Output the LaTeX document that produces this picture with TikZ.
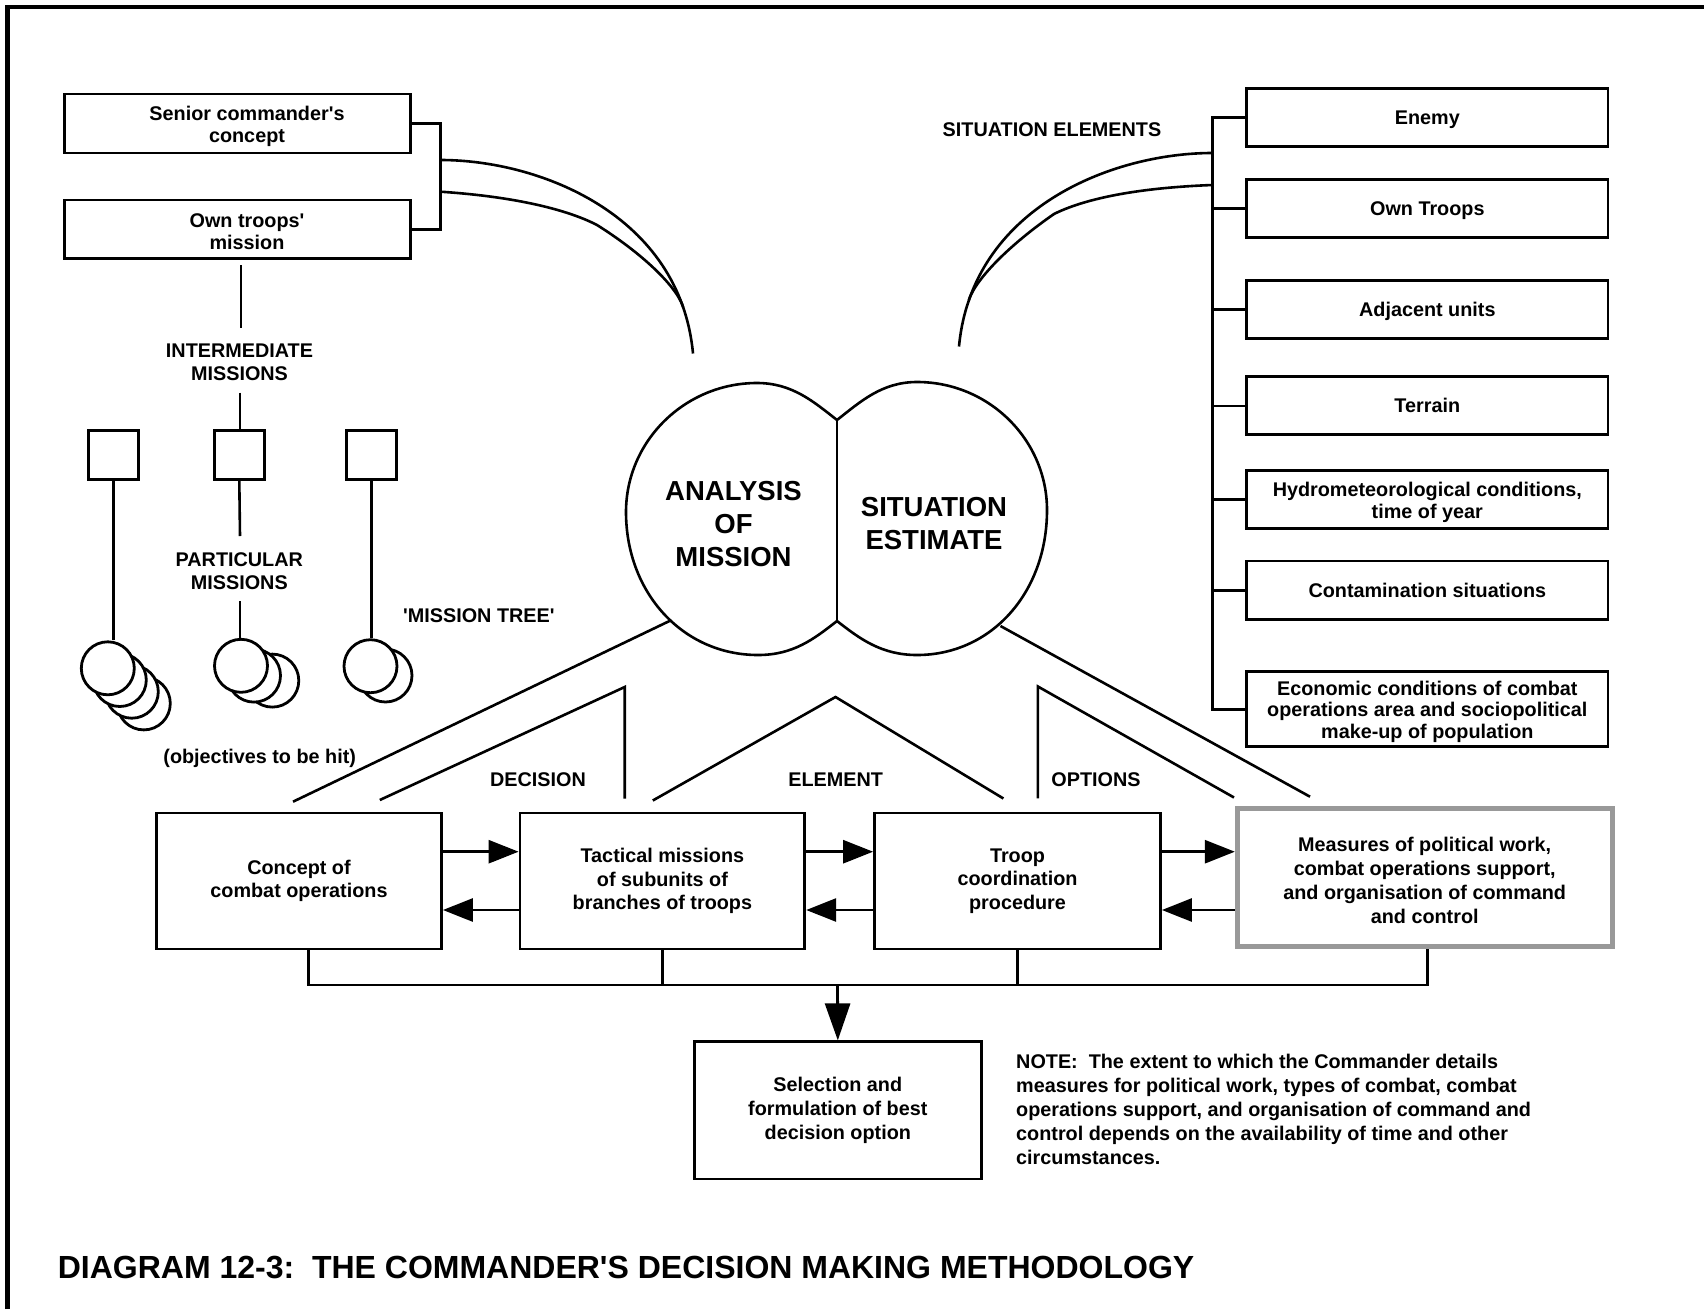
\documentclass[tikz,border=0pt]{standalone}
\usepackage{fontspec}
\setmainfont{Liberation Sans}[Ligatures=TeXOff]
\usetikzlibrary{arrows.meta,calc}
\begin{document}
\begin{tikzpicture}[x=1pt,y=-1pt,
  box/.style={draw,line width=2.8pt,inner sep=0pt,align=center,font=\fontsize{19.8}{21.6}\selectfont\bfseries},
  bbox/.style={box,font=\fontsize{19.8}{23.7}\selectfont\bfseries},
  rtext/.style={inner sep=0pt,align=center,font=\fontsize{19.8}{21.6}\selectfont\bfseries},
  btext/.style={inner sep=0pt,align=center,font=\fontsize{19.8}{22.3}\selectfont\bfseries},
  mtext/.style={inner sep=0pt,align=center,font=\fontsize{19.8}{23.9}\selectfont\bfseries},
  lab/.style={inner sep=0pt,align=center,font=\fontsize{19.8}{23.3}\selectfont\bfseries},
  big/.style={inner sep=0pt,align=center,font=\fontsize{27.5}{32.7}\selectfont\bfseries},
  ln/.style={line width=2.6pt},
  arr/.style={line width=2.8pt,-{Triangle[length=30pt,width=23pt]}},
  darr/.style={line width=2.8pt,-{Triangle[length=37pt,width=25pt]}},
  circ/.style={draw,fill=white,circle,line width=2.8pt,minimum size=53pt,inner sep=0pt},
  sq/.style={draw,line width=2.8pt,minimum width=50pt,minimum height=48.6pt,inner sep=0pt},
]
\useasboundingbox (0,0) rectangle (1704,1309);
\fill[white] (0,0) rectangle (1704,1309);
% frame
\draw[line width=4.4pt] (7.4,1309) -- (7.4,6.7) -- (1704,6.7);

% top-left boxes
\node[box,minimum width=346pt,minimum height=59pt] (senior) at (237.5,123.5) {};
\node[btext] (seniorT) at (247,126.5) {Senior commander's\\concept};
\node[box,minimum width=346pt,minimum height=58.3pt] (own) at (237.5,229.2) {};
\node[btext] (ownT) at (247,232) {Own troops'\\mission};
\coordinate (brT) at (440.5,123.5);
\coordinate (brB) at (440.5,229.2);
\draw[ln] (senior.east) -- (brT) -- (brB) -- (own.east);

% left curves
\coordinate (lu0) at (440.5,160);
\coordinate (lu1) at (693,353.5);
\draw[ln] (lu0) .. controls (540,160) and (680,215) .. (lu1);
\coordinate (ll0) at (440.5,191.7);
\coordinate (llk) at (597,225);
\coordinate (llm) at (683.2,307.1);
\draw[ln] (ll0) .. controls (520,197) and (570,211) .. (llk) .. controls (640,252) and (676,285) .. (llm);

% right boxes
\node[box,minimum width=361.5pt,minimum height=58pt] (enemy) at (1427.3,117.6) {};
\node[rtext] (enemyT) at (1427.3,119.8) {Enemy};
\node[box,minimum width=361.5pt,minimum height=58pt] (owntr) at (1427.3,208.3) {};
\node[rtext] (owntrT) at (1427.3,210.5) {Own Troops};
\node[box,minimum width=361.5pt,minimum height=58pt] (adj) at (1427.3,309.2) {};
\node[rtext] (adjT) at (1427.3,311.2) {Adjacent units};
\node[box,minimum width=361.5pt,minimum height=58pt] (terrain) at (1427.3,405.8) {};
\node[rtext] (terrainT) at (1427.3,405.8) {Terrain};
\node[box,minimum width=361.5pt,minimum height=58.3pt] (hydro) at (1427.3,499.6) {};
\node[rtext] (hydroT) at (1427.3,502.4) {Hydrometeorological conditions,\\time of year};
\node[box,minimum width=361.5pt,minimum height=58.3pt] (contam) at (1427.3,590.2) {};
\node[rtext] (contamT) at (1427.3,590.2) {Contamination situations};
\node[box,minimum width=361.5pt,minimum height=75.3pt] (econ) at (1427.3,709.2) {};
\node[rtext] (econT) at (1427.3,711.6) {Economic conditions of combat\\operations area and sociopolitical\\make-up of population};
\coordinate (vT) at (1212.5,117.6);
\coordinate (vB) at (1212.5,709.2);
\draw[ln] (enemy.west) -- (vT) -- (vB) -- (econ.west);
\foreach \n in {owntr,adj,terrain,hydro,contam} \draw[ln] (\n.west) -- (\n.west -| vT);
\node[lab] (sitel) at (1052,129.5) {SITUATION ELEMENTS};

% right curves
\coordinate (ru0) at (1212.5,153);
\coordinate (ru1) at (959,346.5);
\draw[ln] (ru0) .. controls (1112,153) and (972,208) .. (ru1);
\coordinate (rl0) at (1212.5,185);
\coordinate (rlk) at (1054,214);
\coordinate (rlm) at (968.8,300.1);
\draw[ln] (rl0) .. controls (1132,188) and (1082,200) .. (rlk) .. controls (1012,243) and (976,278) .. (rlm);

% lobes
\coordinate (jT) at (837,420);
\coordinate (jB) at (837,621);
\draw[ln] (jT) .. controls (813.4,401.5) and (792,383) .. (757,383) .. controls (685,383) and (626,441) .. (626,512) .. controls (626,593) and (683,655) .. (758,655) .. controls (793,655) and (813.4,639.5) .. (jB);
\draw[ln] (jT) .. controls (860.6,401.5) and (882,382) .. (917,382) .. controls (989,382) and (1047,440) .. (1047,510) .. controls (1047,593) and (991,655) .. (917,655) .. controls (882,655) and (860.6,639.5) .. (jB);
\draw[ln] (jT) -- (jB);
\node[big] (analysis) at (733.5,524) {ANALYSIS\\OF\\MISSION};
\node[big] (situation) at (934,523.5) {SITUATION\\ESTIMATE};

% roofs
\coordinate (lobeL) at (670.5,620.5);
\coordinate (decL) at (293,801.7);
\draw[ln] (lobeL) -- (decL);
\coordinate (lobeR) at (1000.5,626);
\coordinate (optR) at (1310,796.7);
\draw[ln] (lobeR) -- (optR);
\coordinate (d1) at (379.8,800);
\coordinate (d2) at (624.7,687);
\coordinate (d3) at (624.7,798.5);
\draw[ln] (d1) -- (d2) -- (d3);
\coordinate (e1) at (652.8,800.5);
\coordinate (e2) at (835.5,697);
\coordinate (e3) at (1003.4,798.5);
\draw[ln] (e1) -- (e2) -- (e3);
\coordinate (o1) at (1037.9,798.3);
\coordinate (o2) at (1037.9,686.5);
\coordinate (o3) at (1234,797.5);
\draw[ln] (o1) -- (o2) -- (o3);
\node[lab] (decision) at (538,780) {DECISION};
\node[lab] (element) at (835.7,780) {ELEMENT};
\node[lab] (options) at (1096,780) {OPTIONS};

% bottom row
\node[bbox,minimum width=285pt,minimum height=136pt] (concept) at (299,881) {Concept of\\combat operations};
\node[bbox,minimum width=284.8pt,minimum height=136pt] (tactical) at (662.4,881) {Tactical missions\\of subunits of\\branches of troops};
\node[bbox,minimum width=286pt,minimum height=136pt] (troop) at (1017.5,881) {Troop\\coordination\\procedure};
\node[box,draw=black!40,line width=5pt,minimum width=374.7pt,minimum height=138.6pt] (measures) at (1424.7,877.3) {};
\node[mtext] (measuresT) at (1424.7,880.6) {Measures of political work,\\combat operations support,\\and organisation of command\\and control};
\node[bbox,minimum width=286.7pt,minimum height=137.2pt] (select) at (837.8,1110.4) {Selection and\\formulation of best\\decision option};

\draw[arr] ($(concept.east)+(0,-29.3)$) -- ($(tactical.west)+(0,-29.3)$);
\draw[arr] ($(tactical.west)+(0,29)$) -- ($(concept.east)+(0,29)$);
\draw[arr] ($(tactical.east)+(0,-29.3)$) -- ($(troop.west)+(0,-29.3)$);
\draw[arr] ($(troop.west)+(0,29)$) -- ($(tactical.east)+(0,29)$);
\draw[arr] ($(troop.east)+(0,-29.3)$) -- ($(troop.east -| measures.west)+(0,-29.3)$);
\draw[arr] ($(troop.east -| measures.west)+(0,29)$) -- ($(troop.east)+(0,29)$);

\coordinate (busL) at (308.4,985);
\coordinate (busR) at (1427.3,985);
\coordinate (busM) at (837.5,985);
\draw[ln] ($(concept.south)+(9.4,0)$) -- (busL) -- (busR) -- (busR |- measures.south);
\draw[ln] (tactical.south) -- (tactical.south |- busL);
\draw[ln] (troop.south) -- (troop.south |- busL);
\draw[darr] (busM) -- (select.north);

\node[inner sep=0pt,anchor=west,align=left,font=\fontsize{19.8}{24}\selectfont\bfseries] (note) at (1016,1109) {NOTE:\ \ The extent to which the Commander details\\measures for political work, types of combat, combat\\operations support, and organisation of command and\\control depends on the availability of time and other\\circumstances.};

% mission tree
\coordinate (mt0) at (241,265);
\coordinate (mt1) at (241,327.7);
\draw[ln] (mt0) -- (mt1);
\node[lab] (inter) at (239.5,362.5) {INTERMEDIATE\\MISSIONS};
\node[sq] (sqL) at (113.2,455) {};
\node[sq] (sqM) at (239.3,455) {};
\node[sq] (sqR) at (371.3,455) {};
\coordinate (mt2) at (240,392.7);
\draw[ln] (mt2) -- (mt2 |- sqM.north);

\node[circ] (cL3) at (143.8,703.4) {};
\node[circ] (cL2) at (131.8,691.7) {};
\node[circ] (cL1) at (119.8,680) {};
\node[circ] (cL0) at (107.8,668.3) {};
\node[circ] (cM2) at (272.3,680.6) {};
\node[circ] (cM1) at (254,675.6) {};
\node[circ] (cM0) at (241,665.8) {};
\node[circ] (cR1) at (385.5,675.5) {};
\node[circ] (cR0) at (370.5,666.2) {};

\draw[ln] (sqL.south) -- (sqL.south |- cL0.north);
\coordinate (pm0) at (240,536);
\draw[ln] (sqM.south) -- (pm0);
\node[lab] (part) at (239.3,571.5) {PARTICULAR\\MISSIONS};
\coordinate (pm1) at (240,601);
\draw[ln] (pm1) -- (pm1 |- cM0.north);
\draw[ln] (sqR.south) -- (sqR.south |- cR0.north);

\node[lab,anchor=west] (mtree) at (403,615.5) {'MISSION TREE'};
\node[lab] (objectives) at (259.7,758) {(objectives to be hit)};

% title
\node[inner sep=0pt,anchor=west,font=\fontsize{32}{38}\selectfont\bfseries] (title) at (57.6,1267) {DIAGRAM 12-3:\ \ THE COMMANDER'S DECISION MAKING METHODOLOGY};
\end{tikzpicture}
\end{document}
